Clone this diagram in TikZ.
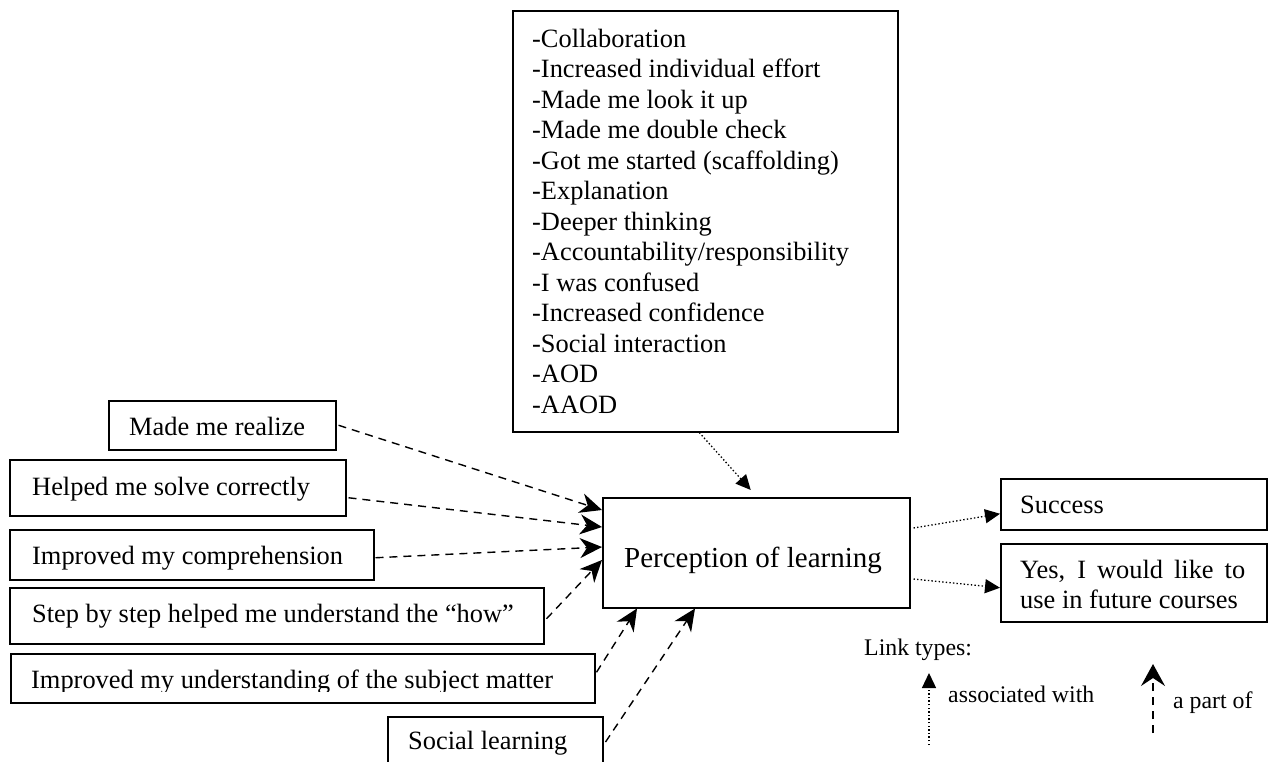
\documentclass[tikz,border=0pt]{standalone}
\usepackage{fontspec}
\setmainfont{Liberation Serif}
\usetikzlibrary{arrows.meta,calc}
\begin{document}
\begin{tikzpicture}[x=1pt,y=-1pt,
  box/.style={draw, line width=1.5pt, inner sep=0pt, anchor=north west},
  txt/.style={inner sep=0pt, anchor=base west, font=\fontsize{26.4}{28.15}\selectfont},
  legtxt/.style={inner sep=0pt, anchor=base west, font=\fontsize{23.8}{26}\selectfont},
  partof/.style={line width=1.4pt, dash pattern=on 8pt off 6pt, -{Stealth[length=22pt,width=20pt,inset=7pt]}},
  assoc/.style={line width=1.3pt, dash pattern=on 1.4pt off 2.2pt, -{Triangle[length=15pt,width=14pt]}}]
\useasboundingbox (0,0) rectangle (1268,761);
\clip (0,0) rectangle (1268,761);
\fill[white] (0,0) rectangle (1268,761);

% boxes
\node[box, minimum width=385pt, minimum height=421pt] (top) at (512,10) {};
\node[box, minimum width=227pt, minimum height=49pt] (realize) at (108,400) {};
\node[box, minimum width=336pt, minimum height=56pt] (helped) at (9,459) {};
\node[box, minimum width=364pt, minimum height=50pt] (comp) at (9,529) {};
\node[box, minimum width=534pt, minimum height=56pt] (step) at (9,587) {};
\node[box, minimum width=584pt, minimum height=49pt] (und) at (10,653) {};
\node[box, minimum width=215pt, minimum height=74pt] (social) at (387,716) {};
\node[box, minimum width=307pt, minimum height=110pt] (perc) at (602,497) {};
\node[box, minimum width=266pt, minimum height=51pt] (success) at (1000,478) {};
\node[box, minimum width=266pt, minimum height=78pt] (yes) at (1000,543) {};

% texts
\foreach \t [count=\i from 0] in {-Collaboration,-Increased individual effort,-Made me look it up,-Made me double check,-Got me started (scaffolding),-Explanation,-Deeper thinking,-Accountability/responsibility,-I was confused,-Increased confidence,-Social interaction,-AOD,-AAOD}
  \node[txt] (top-l\i) at (532,{47+30.5*\i}) {\t};
\node[txt] (realize-t) at (129,435) {Made me realize};
\node[txt] (helped-t) at (32,495) {Helped me solve correctly};
\node[txt] (comp-t) at (32,564) {Improved my comprehension};
\node[txt] (step-t) at (32,622) {Step by step helped me understand the “how”};
\begin{scope}
\clip (0,0) rectangle (1268,691);
\node[txt] (und-t) at (31,688) {Improved my understanding of the subject matter};
\end{scope}
\node[txt] (social-t) at (408,749) {Social learning};
\node[inner sep=0pt, anchor=base, font=\fontsize{29}{32}\selectfont] (perc-t) at (753,567) {Perception of learning};
\node[txt] (success-t) at (1020,513) {Success};
\node[txt] (yes-t1) at (1020,578) {\makebox[225pt][s]{Yes, I would like to}};
\node[txt] (yes-t2) at (1020,608) {use in future courses};

% a part of links
\draw[partof] ($(realize.east)+(2,0)$) -- ($(perc.north west)+(0,13)$);
\draw[partof] ($(helped.east)+(2,10)$) -- ($(perc.north west)+(0,30)$);
\draw[partof] ($(comp.east)+(1,3)$) -- ($(perc.north west)+(0,50)$);
\draw[partof] ($(step.east)+(2,3)$) -- ($(perc.north west)+(0,63)$);
\draw[partof] ($(und.east)+(1,-6)$) -- ($(perc.south west)+(35,0)$);
\draw[partof] ($(social.north east)+(2,26)$) -- ($(perc.south west)+(93,0)$);

% associated with links
\draw[assoc] ($(top.south)+(-6,0)$) -- ($(perc.north)+(-5.5,-7)$);
\draw[assoc] ($(perc.north east)+(3,31)$) -- ($(success.west)+(0,9.5)$);
\draw[assoc] ($(perc.north east)+(3,82)$) -- ($(yes.west)+(0,5)$);

% legend
\node[legtxt] (leg-title) at (864,655) {Link types:};
\coordinate (legA0) at (929,745);
\coordinate (legA1) at (929,673);
\draw[assoc] (legA0) -- (legA1);
\node[legtxt] (leg-assoc) at (948,702) {associated with};
\coordinate (legB0) at (1153,733);
\coordinate (legB1) at (1153,664);
\draw[partof, -{Stealth[length=22pt,width=24pt,inset=8pt]}] (legB0) -- (legB1);
\node[legtxt] (leg-part) at (1173,708) {a part of};
\end{tikzpicture}
\end{document}
